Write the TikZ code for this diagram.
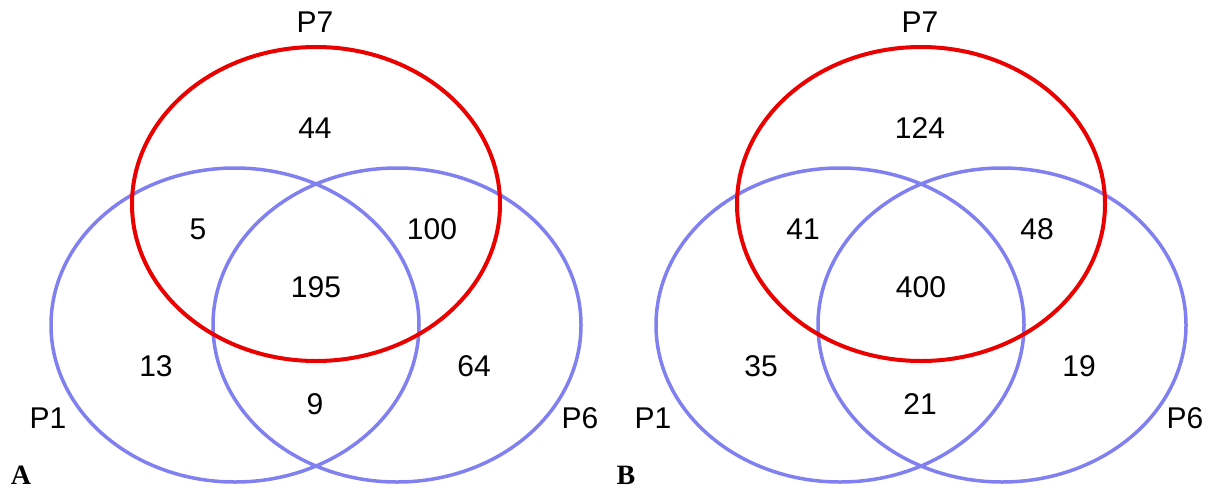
\documentclass[tikz,border=0pt]{standalone}
\usepackage{fontspec}
\setmainfont{Liberation Sans}
\newfontfamily\panelfont{Liberation Serif}

\definecolor{setblue}{RGB}{128,128,240}
\definecolor{setred}{RGB}{235,0,0}

\tikzset{
  blueset/.style={line width=3.5pt, setblue},
  redset/.style={line width=4pt, setred},
  count/.style={font=\fontsize{30}{35}\selectfont, inner sep=0pt},
  panel/.style={font=\panelfont\bfseries\fontsize{28}{32}\selectfont, inner sep=0pt},
}

\begin{document}
\begin{tikzpicture}[x=1pt,y=-1pt]
\useasboundingbox (0,0) rectangle (1215,488);

% two panels, same layout, numbers differ
\foreach \dx/\pan/\vt/\vl/\vr/\vc/\vp/\vq/\vb in {0/A/44/5/100/195/13/64/9, 605/B/124/41/48/400/35/19/21}{
  \begin{scope}[shift={(\dx,0)}]
    \draw[blueset] (235,325) ellipse [x radius=184, y radius=157];
    \draw[blueset] (397,325) ellipse [x radius=184, y radius=157];
    \draw[redset] (316,204) ellipse [x radius=184, y radius=157];

    \node[count] (\pan-p7) at (315,22) {P7};
    \node[count] (\pan-p1) at (48,418) {P1};
    \node[count] (\pan-p6) at (580,418) {P6};

    \node[count] (\pan-top) at (315,128) {\vt};
    \node[count] (\pan-left) at (198,229) {\vl};
    \node[count] (\pan-right) at (432,229) {\vr};
    \node[count] (\pan-mid) at (316,287) {\vc};
    \node[count] (\pan-lo) at (156,366) {\vp};
    \node[count] (\pan-ro) at (474,366) {\vq};
    \node[count] (\pan-bot) at (315,404) {\vb};

    \node[panel] (\pan-tag) at (21,475) {\pan};
  \end{scope}
}
\end{tikzpicture}
\end{document}
